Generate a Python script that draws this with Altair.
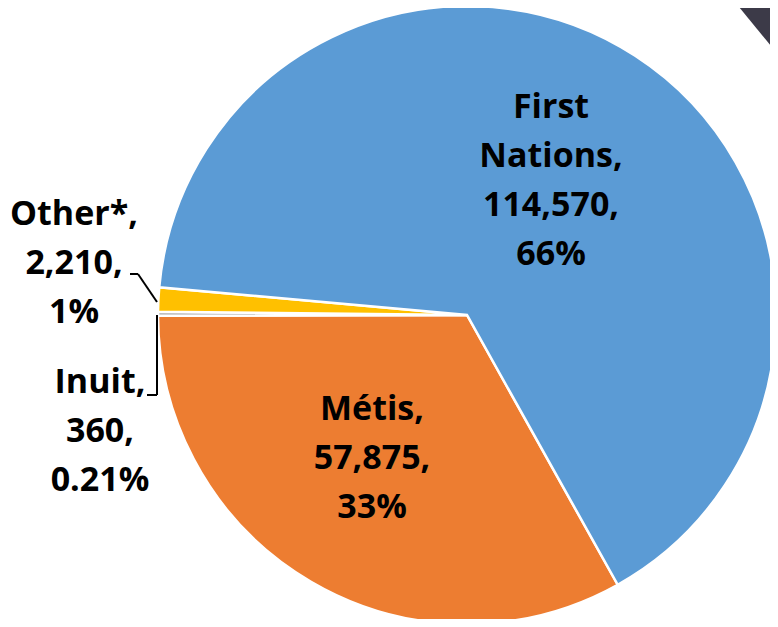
import altair as alt
import pandas as pd

# Data
categories = ["Métis", "Inuit", "Other*", "First Nations"]
name_lines = ["Métis", "Inuit", "Other*", "First\nNations"]
values = [57875, 360, 2210, 114570]
pct_labels = ["33%", "0.21%", "1%", "66%"]
colors = ["#ED7D31", "#A5A5A5", "#FFC000", "#5B9BD5"]

df = pd.DataFrame({
    "category": categories,
    "value": values,
    "order": list(range(len(categories))),
    "label": [f"{n},\n{v:,},\n{p}" for n, v, p in zip(name_lines, values, pct_labels)],
})

CX, CY, R = 459, 307, 309
START = 2.632
TAU = 6.283185307179586

base = alt.Chart(df)

pie = base.mark_arc(outerRadius=R, stroke="white", strokeWidth=2.5).encode(
    theta=alt.Theta("value:Q", stack=True, scale=alt.Scale(range=[START, START + TAU])),
    color=alt.Color("category:N", scale=alt.Scale(domain=categories, range=colors), legend=None),
    order=alt.Order("order:Q"),
    x=alt.value(CX),
    y=alt.value(CY),
)

text_style = dict(font="Open Sans", fontSize=34, fontWeight="bold", lineBreak="\n",
                  lineHeight=49, align="center", baseline="middle", color="black")

def label(cat, x, y):
    return base.transform_filter(alt.datum.category == cat).mark_text(**text_style).encode(
        text="label:N", x=alt.value(x), y=alt.value(y)
    )

labels = [
    label("First Nations", 543, 100),
    label("Métis", 364, 402),
    label("Other*", 66, 207),
    label("Inuit", 92, 375),
]

def leader(cat, x1, y1, x2, y2):
    return base.transform_filter(alt.datum.category == cat).mark_rule(color="black", strokeWidth=2).encode(
        x=alt.value(x1), y=alt.value(y1), x2=alt.value(x2), y2=alt.value(y2)
    )

leaders = [
    leader("Other*", 122, 266, 130, 266),
    leader("Other*", 130, 266, 149, 294),
    leader("Inuit", 139, 387, 149, 387),
    leader("Inuit", 149, 387, 149, 307),
]

# dark photo-frame corner visible at the top right of the reference
corner = alt.Chart(pd.DataFrame({"decor": ["corner"]})).mark_rule(
    color="#3c3a48", strokeWidth=60, strokeCap="butt"
).encode(x=alt.value(723), y=alt.value(-58), x2=alt.value(806), y2=alt.value(43))

chart = alt.layer(pie, *leaders, *labels, corner).properties(
    width=762, height=611, autosize=alt.AutoSizeParams(type="none"), padding=0
).configure_view(stroke=None)

chart.save("out.html", embed_options={"renderer": "svg", "actions": False})
